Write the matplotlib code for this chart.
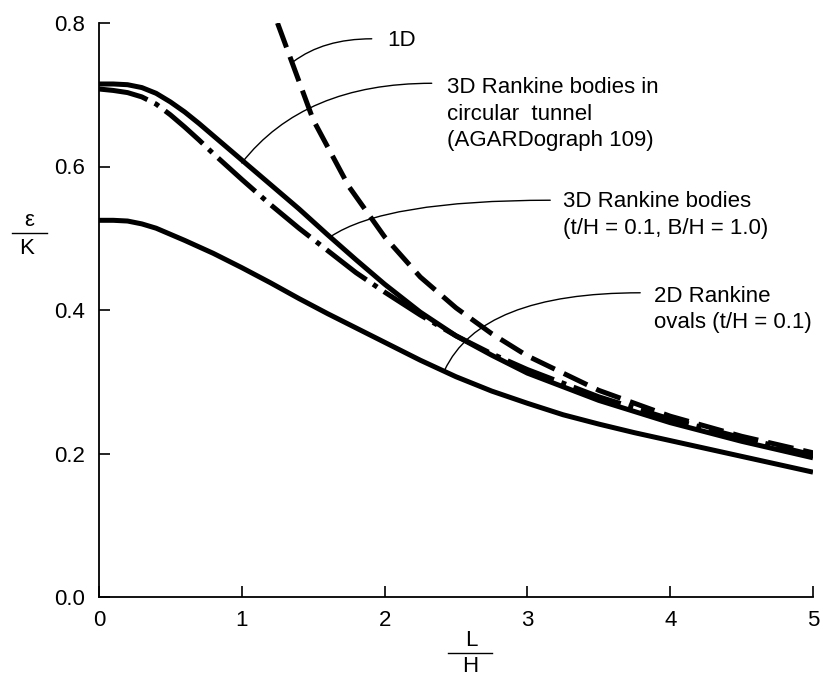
import matplotlib
matplotlib.use("Agg")
import matplotlib.pyplot as plt
from matplotlib.lines import Line2D

plt.rcParams['font.family'] = ['Liberation Sans', 'DejaVu Sans']

# ---- data ----
L_3d = [0, 0.1, 0.2, 0.3, 0.4, 0.5, 0.6, 0.7, 0.8, 0.9, 1.0, 1.2, 1.4, 1.6, 1.8,
        2.0, 2.25, 2.5, 2.75, 3.0, 3.5, 4.0, 4.5, 5.0]
eps_3d = [0.715, 0.715, 0.714, 0.710, 0.702, 0.690, 0.676, 0.660, 0.643, 0.626, 0.609,
          0.575, 0.541, 0.505, 0.470, 0.436, 0.397, 0.364, 0.337, 0.312, 0.274,
          0.243, 0.217, 0.194]

L_circ = [0, 0.1, 0.2, 0.3, 0.4, 0.5, 0.6, 0.7, 0.8, 0.9, 1.0, 1.2, 1.4, 1.6, 1.8,
          2.0, 2.25, 2.5, 2.75, 3.0, 3.5, 4.0, 4.5, 5.0]
eps_circ = [0.708, 0.706, 0.703, 0.697, 0.687, 0.672, 0.655, 0.637, 0.618, 0.600,
            0.582, 0.547, 0.514, 0.483, 0.452, 0.425, 0.393, 0.364, 0.339, 0.317,
            0.279, 0.248, 0.222, 0.198]

L_1d = [1.25, 1.5, 1.75, 2.0, 2.25, 2.5, 2.75, 3.0, 3.5, 4.0, 4.5, 5.0]
eps_1d = [0.800, 0.665, 0.572, 0.502, 0.446, 0.403, 0.367, 0.336, 0.288, 0.252,
          0.224, 0.201]

L_2d = [0, 0.1, 0.2, 0.3, 0.4, 0.6, 0.8, 1.0, 1.2, 1.4, 1.6, 1.8, 2.0, 2.25, 2.5,
        2.75, 3.0, 3.25, 3.5, 3.75, 4.0, 4.5, 5.0]
eps_2d = [0.525, 0.525, 0.524, 0.520, 0.514, 0.497, 0.479, 0.459, 0.438, 0.416,
          0.395, 0.375, 0.355, 0.330, 0.307, 0.287, 0.270, 0.254, 0.241, 0.229,
          0.218, 0.196, 0.174]

x_ticks = [0, 1, 2, 3, 4, 5]
y_ticks = [0.0, 0.2, 0.4, 0.6, 0.8]
y_tick_labels = ["0.0", "0.2", "0.4", "0.6", "0.8"]

label_1d = "1D"
label_circ = "3D Rankine bodies in\ncircular  tunnel\n(AGARDograph 109)"
label_3d = "3D Rankine bodies\n(t/H = 0.1, B/H = 1.0)"
label_2d = "2D Rankine\novals (t/H = 0.1)"

# ---- figure ----
W, H = 828, 677
fig = plt.figure(figsize=(W / 100, H / 100), dpi=100)
ax = fig.add_axes([99 / W, 1 - 597 / H, (813 - 99) / W, (597 - 23) / H])

lw = 3.6
ax.plot(L_3d, eps_3d, color='black', lw=lw, solid_capstyle='butt')
ax.plot(L_circ, eps_circ, color='black', lw=lw, linestyle=(0, (10, 1.6, 1.0, 1.6)),
        dash_capstyle='butt')
ax.plot(L_1d, eps_1d, color='black', lw=lw, linestyle=(0, (5.2, 2.0)),
        dash_capstyle='butt')
ax.plot(L_2d, eps_2d, color='black', lw=lw, solid_capstyle='butt')

ax.set_xlim(0, 5)
ax.set_ylim(0, 0.8)
ax.set_xticks(x_ticks)
ax.set_xticklabels([str(v) for v in x_ticks])
ax.set_yticks(y_ticks)
ax.set_yticklabels(y_tick_labels)
for s in ['top', 'right']:
    ax.spines[s].set_visible(False)
for s in ['left', 'bottom']:
    ax.spines[s].set_linewidth(1.3)
ax.tick_params(axis='both', direction='in', length=8, width=1.2, labelsize=16)
ax.tick_params(axis='y', pad=10)
ax.tick_params(axis='x', pad=9)

fs = 16
# annotation texts
ax.text(2.02, 0.776, label_1d, fontsize=fs, ha='left', va='center')
ax.text(2.44, 0.673, label_circ, fontsize=fs, ha='left', va='center', linespacing=1.35)
ax.text(3.25, 0.532, label_3d, fontsize=fs, ha='left', va='center', linespacing=1.35)
ax.text(3.89, 0.401, label_2d, fontsize=fs, ha='left', va='center', linespacing=1.3)

# leader lines (text end -> curve point)
leaders = [
    ((1.91, 0.778), (1.36, 0.746), 37),
    ((2.33, 0.716), (1.00, 0.605), 52),
    ((3.16, 0.553), (1.62, 0.502), 34),
    ((3.79, 0.424), (2.42, 0.316), 65),
]
for start, end, ang in leaders:
    ax.annotate('', xy=end, xytext=start, xycoords='data', textcoords='data',
                arrowprops=dict(arrowstyle='-', lw=1.0, color='black',
                                shrinkA=0, shrinkB=0,
                                connectionstyle=f"angle3,angleA=0,angleB={ang}"))

# axis labels as fractions
def fx(px):
    return px / W

def fy(py):
    return 1 - py / H

fig.text(fx(29), fy(220), "ε", fontsize=fs, ha='center', va='center')
fig.add_artist(Line2D([fx(12), fx(47)], [fy(233), fy(233)], color='black', lw=1.0))
fig.text(fx(27), fy(249), "K", fontsize=fs, ha='center', va='center')

fig.text(fx(471), fy(640), "L", fontsize=fs, ha='center', va='center')
fig.add_artist(Line2D([fx(448), fx(492)], [fy(653), fy(653)], color='black', lw=1.0))
fig.text(fx(470), fy(667), "H", fontsize=fs, ha='center', va='center')

fig.savefig("out.png", dpi=100)
